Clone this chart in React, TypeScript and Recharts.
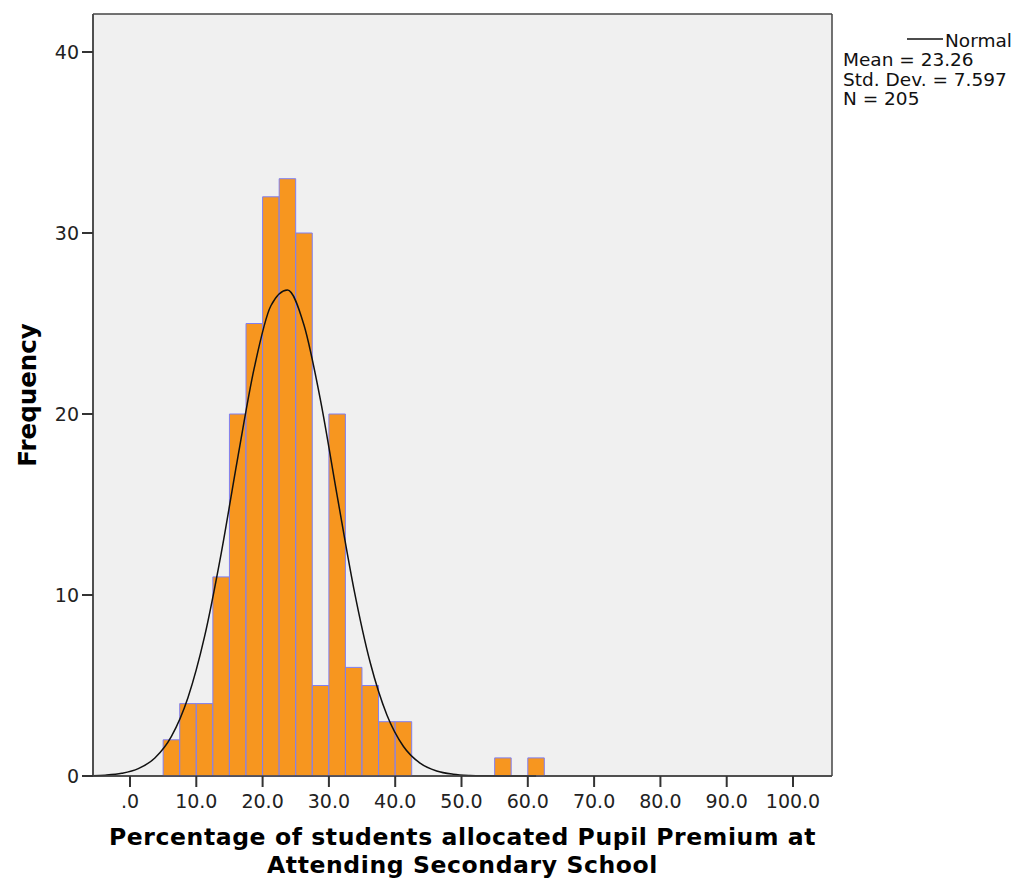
import { Bar, CartesianGrid, ComposedChart, Label, Line, XAxis, YAxis } from "recharts";

// bin centres (bin width 2.5)
const BIN_CENTERS = [
  -6.25, -3.75, -1.25, 1.25, 3.75, 6.25, 8.75, 11.25, 13.75, 16.25, 18.75, 21.25, 23.75, 26.25,
  28.75, 31.25, 33.75, 36.25, 38.75, 41.25, 43.75, 46.25, 48.75, 51.25, 53.75, 56.25, 58.75, 61.25,
];
const FREQUENCY = [
  0, 0, 0, 0, 0, 2, 4, 4, 11, 20, 25, 32, 33, 30,
  5, 20, 6, 5, 3, 3, 0, 0, 0, 0, 0, 1, 0, 1,
];
// normal curve height read at each bin centre
const NORMAL_CURVE = [
  0.014, 0.048, 0.148, 0.405, 0.995, 2.19, 4.34, 7.71, 12.29, 17.58, 22.56, 25.98, 26.85, 24.9,
  20.73, 15.48, 10.37, 6.24, 3.37, 1.63, 0.71, 0.276, 0.097, 0.03, 0.009, 0.002, 0, 0,
];

const X_TICKS = [0, 10, 20, 30, 40, 50, 60, 70, 80, 90, 100];
const Y_TICKS = [0, 10, 20, 30, 40];
const X_DOMAIN: [number, number] = [-5.58, 105.88];
const Y_DOMAIN: [number, number] = [0, 42.1];

const X_TITLE = ["Percentage of students allocated Pupil Premium at", "Attending Secondary School"];
const Y_TITLE = "Frequency";
const LEGEND_NAME = "Normal";
const LEGEND_STATS = ["Mean = 23.26", "Std. Dev. = 7.597", "N = 205"];

const FONT = "'DejaVu Sans', Verdana, sans-serif";
const BAR_FILL = "#f7961f";
const BAR_STROKE = "#7f7ff2";
const FRAME = "#444";

const data = BIN_CENTERS.map((x, i) => ({
  x,
  count: FREQUENCY[i] > 0 ? FREQUENCY[i] : null,
  normal: NORMAL_CURVE[i],
}));

function XTitle(props: any) {
  const vb = props.viewBox || {};
  const cx = vb.x + vb.width / 2;
  return (
    <text
      textAnchor="middle"
      fontFamily={FONT}
      fontWeight="bold"
      fontSize={23.5}
      letterSpacing={0.6}
      fill="#000"
    >
      <tspan x={cx} y={vb.y + 69}>{X_TITLE[0]}</tspan>
      <tspan x={cx} y={vb.y + 97}>{X_TITLE[1]}</tspan>
    </text>
  );
}

function YTitle(props: any) {
  const vb = props.viewBox || {};
  const cy = vb.y + vb.height / 2;
  const bx = 36;
  return (
    <text
      x={bx}
      y={cy}
      textAnchor="middle"
      transform={`rotate(-90, ${bx}, ${cy})`}
      fontFamily={FONT}
      fontWeight="bold"
      fontSize={24.5}
      fill="#000"
    >
      {Y_TITLE}
    </text>
  );
}

const fmtX = (v: number) => (v === 0 ? ".0" : v.toFixed(1));

// frame round the plot area, taken from the chart's own offset
const frameRows = ({ offset }: any) => [offset.top, offset.top + offset.height];
const frameCols = ({ offset }: any) => [offset.left, offset.left + offset.width];

export default function App() {
  const tick = { fill: "#222", fontSize: 19, fontFamily: FONT };
  return (
    <div style={{ position: "absolute", left: 0, top: 0, width: 1016, height: 879, background: "#fff" }}>
      <ComposedChart
        width={1016}
        height={879}
        data={data}
        margin={{ top: 14, right: 184, bottom: 0, left: 0 }}
      >
        <CartesianGrid
          fill="#f0f0f0"
          stroke={FRAME}
          strokeWidth={1.5}
          horizontalCoordinatesGenerator={frameRows}
          verticalCoordinatesGenerator={frameCols}
        />
        <XAxis
          dataKey="x"
          type="number"
          domain={X_DOMAIN}
          allowDataOverflow
          ticks={X_TICKS}
          tickFormatter={fmtX}
          interval={0}
          height={103}
          tickSize={11}
          tickMargin={8}
          tick={tick}
          axisLine={{ stroke: FRAME, strokeWidth: 1.5 }}
          tickLine={{ stroke: "#333", strokeWidth: 2 }}
        >
          <Label content={XTitle} />
        </XAxis>
        <YAxis
          type="number"
          domain={Y_DOMAIN}
          ticks={Y_TICKS}
          interval={0}
          width={93}
          tickSize={11}
          tickMargin={3}
          tick={tick}
          axisLine={{ stroke: FRAME, strokeWidth: 1.5 }}
          tickLine={{ stroke: "#333", strokeWidth: 2 }}
        >
          <Label content={YTitle} />
        </YAxis>
        <Bar
          dataKey="count"
          barSize={16.5}
          fill={BAR_FILL}
          stroke={BAR_STROKE}
          strokeWidth={1}
          isAnimationActive={false}
        />
        <Line
          dataKey="normal"
          type="monotone"
          stroke="#111"
          strokeWidth={1.5}
          dot={false}
          activeDot={false}
          isAnimationActive={false}
        />
      </ComposedChart>
      <svg
        width={1016}
        height={879}
        style={{ position: "absolute", left: 0, top: 0, pointerEvents: "none" }}
      >
        <line x1={907} y1={39} x2={943} y2={39} stroke="#111" strokeWidth={1.5} />
        <text x={945} y={47} fontFamily={FONT} fontSize={18.5} fill="#111">
          {LEGEND_NAME}
        </text>
        {LEGEND_STATS.map((s, i) => (
          <text key={s} x={843} y={66 + i * 19.5} fontFamily={FONT} fontSize={18.5} fill="#111">
            {s}
          </text>
        ))}
      </svg>
    </div>
  );
}
